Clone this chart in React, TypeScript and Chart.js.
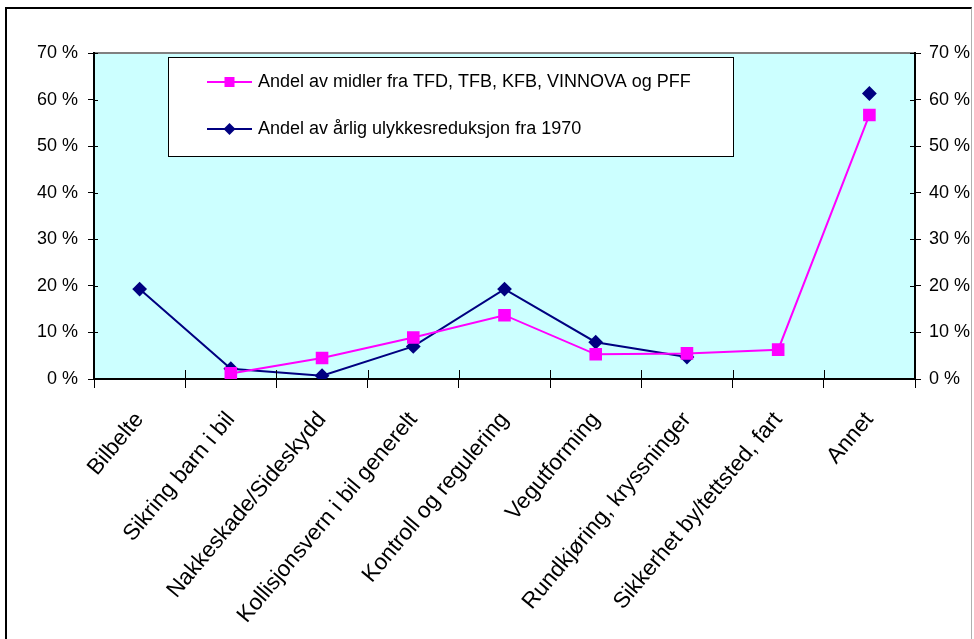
import React, { useEffect, useRef } from "react";
import { Chart, registerables } from "chart.js";

Chart.register(...registerables);

const categories = [
  "Bilbelte",
  "Sikring barn i bil",
  "Nakkeskade/Sideskydd",
  "Kollisjonsvern i bil generelt",
  "Kontroll og regulering",
  "Vegutforming",
  "Rundkjøring, kryssninger",
  "Sikkerhet by/tettsted, fart",
  "Annet",
];

// Share of funding (%)
const fundingShare = [null, 1.2, 4.5, 8.9, 13.7, 5.3, 5.5, 6.3, 56.7];
// Share of annual accident reduction since 1970 (%)
const reductionShare = [19.3, 2.2, 0.7, 7.0, 19.3, 7.9, 4.7, null, 61.3];

const yTicks = [0, 10, 20, 30, 40, 50, 60, 70];

const fundingLabel = "Andel av midler fra TFD, TFB, KFB, VINNOVA og PFF";
const reductionLabel = "Andel av årlig ulykkesreduksjon fra 1970";

const FONT = "'Liberation Sans', Arial, sans-serif";
const PINK = "#FF00FF";
const NAVY = "#000080";

const plotBackground = {
  id: "plotBackground",
  beforeDraw(chart: any) {
    const { ctx, chartArea } = chart;
    ctx.save();
    ctx.fillStyle = "#CCFFFF";
    ctx.fillRect(chartArea.left, chartArea.top, chartArea.right - chartArea.left, chartArea.bottom - chartArea.top);
    ctx.strokeStyle = "#808080";
    ctx.lineWidth = 2;
    ctx.beginPath();
    ctx.moveTo(chartArea.left, chartArea.top);
    ctx.lineTo(chartArea.right, chartArea.top);
    ctx.stroke();
    ctx.restore();
  },
};

// Tick marks that cross the axis lines, drawn on the inner side of each axis
const innerTicks = {
  id: "innerTicks",
  afterDatasetsDraw(chart: any) {
    const { ctx, chartArea, scales } = chart;
    ctx.save();
    ctx.strokeStyle = "#000000";
    ctx.lineWidth = 1;
    ctx.beginPath();
    scales.y.ticks.forEach((t: any) => {
      const y = Math.round(scales.y.getPixelForValue(t.value)) + 0.5;
      ctx.moveTo(chartArea.left, y);
      ctx.lineTo(chartArea.left + 4, y);
      ctx.moveTo(chartArea.right - 5, y);
      ctx.lineTo(chartArea.right, y);
    });
    const n = scales.x.ticks.length;
    const step = scales.x.getPixelForTick(1) - scales.x.getPixelForTick(0);
    for (let i = 0; i <= n; i++) {
      const x = Math.round(scales.x.getPixelForTick(0) + (i - 0.5) * step) + 0.5;
      ctx.moveTo(x, chartArea.bottom);
      ctx.lineTo(x, chartArea.bottom - 9);
    }
    ctx.stroke();
    ctx.restore();
  },
};

const boxedLegend = {
  id: "boxedLegend",
  afterDraw(chart: any) {
    const { ctx } = chart;
    const x0 = 168, y0 = 57, x1 = 733, y1 = 156;
    ctx.save();
    ctx.fillStyle = "#FFFFFF";
    ctx.fillRect(x0, y0, x1 - x0, y1 - y0);
    ctx.strokeStyle = "#000000";
    ctx.lineWidth = 1;
    ctx.strokeRect(x0 + 0.5, y0 + 0.5, x1 - x0, y1 - y0);
    const rows = [
      { ds: chart.data.datasets[0], y: 82 },
      { ds: chart.data.datasets[1], y: 129 },
    ];
    rows.forEach(({ ds, y }) => {
      ctx.strokeStyle = ds.borderColor;
      ctx.lineWidth = 2;
      ctx.beginPath();
      ctx.moveTo(207, y);
      ctx.lineTo(252, y);
      ctx.stroke();
      ctx.fillStyle = ds.pointBackgroundColor;
      const cx = 229.5;
      if (ds.pointStyle === "rect") {
        ctx.fillRect(cx - 5, y - 5, 10, 10);
      } else {
        ctx.beginPath();
        ctx.moveTo(cx, y - 6);
        ctx.lineTo(cx + 6, y);
        ctx.lineTo(cx, y + 6);
        ctx.lineTo(cx - 6, y);
        ctx.closePath();
        ctx.fill();
      }
      ctx.fillStyle = "#000000";
      ctx.font = `18px ${FONT}`;
      ctx.textBaseline = "middle";
      ctx.textAlign = "left";
      ctx.fillText(ds.label, 258, y);
    });
    ctx.restore();
  },
};

export default function App() {
  const canvasRef = useRef<HTMLCanvasElement | null>(null);

  useEffect(() => {
    if (!canvasRef.current) return;
    const chart = new Chart(canvasRef.current, {
      type: "line",
      data: {
        labels: categories,
        datasets: [
          {
            label: fundingLabel,
            data: fundingShare,
            borderColor: PINK,
            backgroundColor: PINK,
            pointBackgroundColor: PINK,
            pointBorderColor: PINK,
            pointStyle: "rect",
            pointRadius: 7.5,
            borderWidth: 2,
            spanGaps: false,
            yAxisID: "y",
          },
          {
            label: reductionLabel,
            data: reductionShare,
            borderColor: NAVY,
            backgroundColor: NAVY,
            pointBackgroundColor: NAVY,
            pointBorderColor: NAVY,
            pointStyle: "rectRot",
            pointRadius: 6,
            borderWidth: 2,
            spanGaps: false,
            yAxisID: "y",
          },
        ],
      },
      options: {
        responsive: false,
        animation: false,
        layout: { padding: { top: 53, left: 0, right: 0, bottom: 0 } },
        plugins: {
          legend: { display: false },
          tooltip: { enabled: false },
        },
        scales: {
          x: {
            type: "category",
            offset: true,
            grid: {
              offset: true,
              drawOnChartArea: false,
              drawTicks: true,
              tickLength: 9,
              color: "#000000",
            },
            border: { display: true, color: "#000000", width: 2 },
            ticks: {
              autoSkip: false,
              maxRotation: 50,
              minRotation: 50,
              padding: 19,
              color: "#000000",
              font: { family: FONT, size: 22.5 },
            },
            afterFit(scale: any) {
              scale.height = 260;
            },
          },
          y: {
            position: "left",
            min: 0,
            max: 70,
            afterBuildTicks(scale: any) {
              scale.ticks = yTicks.map((v) => ({ value: v }));
            },
            grid: {
              drawOnChartArea: false,
              drawTicks: true,
              tickLength: 6,
              color: "#000000",
            },
            border: { display: true, color: "#000000", width: 2 },
            ticks: {
              padding: 10,
              color: "#000000",
              font: { family: FONT, size: 18 },
              callback: (v: any) => `${v} %`,
            },
            afterFit(scale: any) {
              scale.width = 94;
            },
          },
          y2: {
            position: "right",
            min: 0,
            max: 70,
            afterBuildTicks(scale: any) {
              scale.ticks = yTicks.map((v) => ({ value: v }));
            },
            grid: {
              drawOnChartArea: false,
              drawTicks: true,
              tickLength: 6,
              color: "#000000",
            },
            border: { display: true, color: "#000000", width: 2 },
            ticks: {
              padding: 8,
              color: "#000000",
              font: { family: FONT, size: 18 },
              callback: (v: any) => `${v} %`,
            },
            afterFit(scale: any) {
              scale.width = 59;
            },
          },
        },
      },
      plugins: [plotBackground, innerTicks, boxedLegend],
    });
    return () => chart.destroy();
  }, []);

  return (
    <div style={{ position: "absolute", left: 0, top: 0, width: 974, height: 639, overflow: "hidden", background: "#FFFFFF" }}>
      <div
        style={{
          position: "absolute",
          left: 5,
          top: 7,
          width: 967,
          height: 660,
          borderLeft: "2px solid #000000",
          borderTop: "2px solid #000000",
          borderRight: "1px solid #B0B0B0",
          boxSizing: "border-box",
        }}
      />
      <canvas ref={canvasRef} width={974} height={639} style={{ position: "absolute", left: 0, top: 0 }} />
    </div>
  );
}
